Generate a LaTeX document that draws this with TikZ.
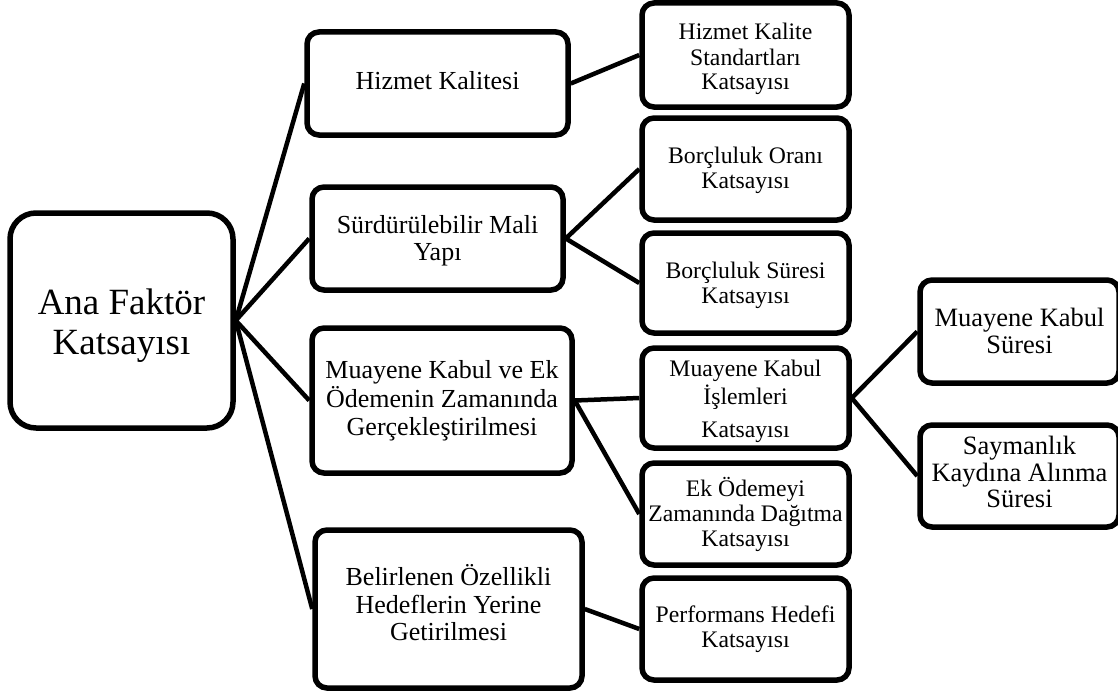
\documentclass[tikz,border=0pt]{standalone}
\usepackage{fontspec}
\setmainfont{Liberation Serif}
\newcommand{\boxtext}[2]{\raisebox{-#1}[\height][\depth]{\begin{tabular}{@{}c@{}}#2\end{tabular}}}
\begin{document}
\begin{tikzpicture}[x=1pt,y=-1pt,
  box/.style={draw, line width=5.5pt, rounded corners=12pt, align=center, inner sep=0pt},
  lvlA/.style={box, font=\fontsize{26}{27.5}\selectfont},
  lvlB/.style={box, minimum width=207pt, font=\fontsize{23.7}{25}\selectfont},
  lvlC/.style={box, minimum width=199pt, font=\fontsize{26.5}{26.5}\selectfont},
  link/.style={line width=4.5pt}]
\useasboundingbox (0,0) rectangle (1118,693);
% root
\node[box, rounded corners=26pt, minimum width=223pt, minimum height=215pt,
      font=\fontsize{37}{40}\selectfont] (root) at (121.5,320.5) {\boxtext{6pt}{Ana Faktör\\Katsayısı}};
% level 1
\node[lvlA, minimum width=261pt, minimum height=103pt] (hk) at (437.5,83.5) {\boxtext{0pt}{Hizmet Kalitesi}};
\node[lvlA, minimum width=251pt, minimum height=103pt] (smy) at (437.5,238.5) {\boxtext{3pt}{Sürdürülebilir Mali\\Yapı}};
\node[lvlA, minimum width=260pt, minimum height=145pt] (mke) at (442,400.5) {\boxtext{1pt}{Muayene Kabul ve Ek\\Ödemenin Zamanında\\Gerçekleştirilmesi}};
\node[lvlA, minimum width=267pt, minimum height=158pt] (bel) at (448.5,609) {\boxtext{-2pt}{Belirlenen Özellikli\\Hedeflerin Yerine\\Getirilmesi}};
% level 2
\node[lvlB, minimum height=104pt] (hks) at (745.5,55) {\boxtext{5pt}{Hizmet Kalite\\Standartları\\Katsayısı}};
\node[lvlB, minimum height=102pt] (bok) at (745.5,169) {\boxtext{2pt}{Borçluluk Oranı\\Katsayısı}};
\node[lvlB, minimum height=100pt] (bsk) at (745.5,283) {\boxtext{3pt}{Borçluluk Süresi\\Katsayısı}};
\node[lvlB, minimum height=100pt] (mki) at (745.5,398) {\boxtext{4pt}{Muayene Kabul\\İşlemleri\\[8pt]Katsayısı}};
\node[lvlB, minimum height=102pt] (eo) at (745.5,514) {\boxtext{2pt}{Ek Ödemeyi\\Zamanında Dağıtma\\Katsayısı}};
\node[lvlB, minimum height=102pt] (phk) at (745.5,629) {\boxtext{1pt}{Performans Hedefi\\Katsayısı}};
% level 3
\node[lvlC, minimum height=103pt] (mks) at (1019.5,331.5) {\boxtext{3pt}{Muayene Kabul\\Süresi}};
\node[lvlC, minimum height=102pt] (skas) at (1019.5,476) {\boxtext{0pt}{Saymanlık\\Kaydına Alınma\\Süresi}};
% connectors
\draw[link] (root.east) -- (hk.west);
\draw[link] (root.east) -- (smy.west);
\draw[link] (root.east) -- (mke.west);
\draw[link] (root.east) -- (bel.west);
\draw[link] (hk.east) -- (hks.west);
\draw[link] (smy.east) -- (bok.west);
\draw[link] (smy.east) -- (bsk.west);
\draw[link] (mke.east) -- (mki.west);
\draw[link] (mke.east) -- (eo.west);
\draw[link] (bel.east) -- (phk.west);
\draw[link] (mki.east) -- (mks.west);
\draw[link] (mki.east) -- (skas.west);
\end{tikzpicture}
\end{document}
